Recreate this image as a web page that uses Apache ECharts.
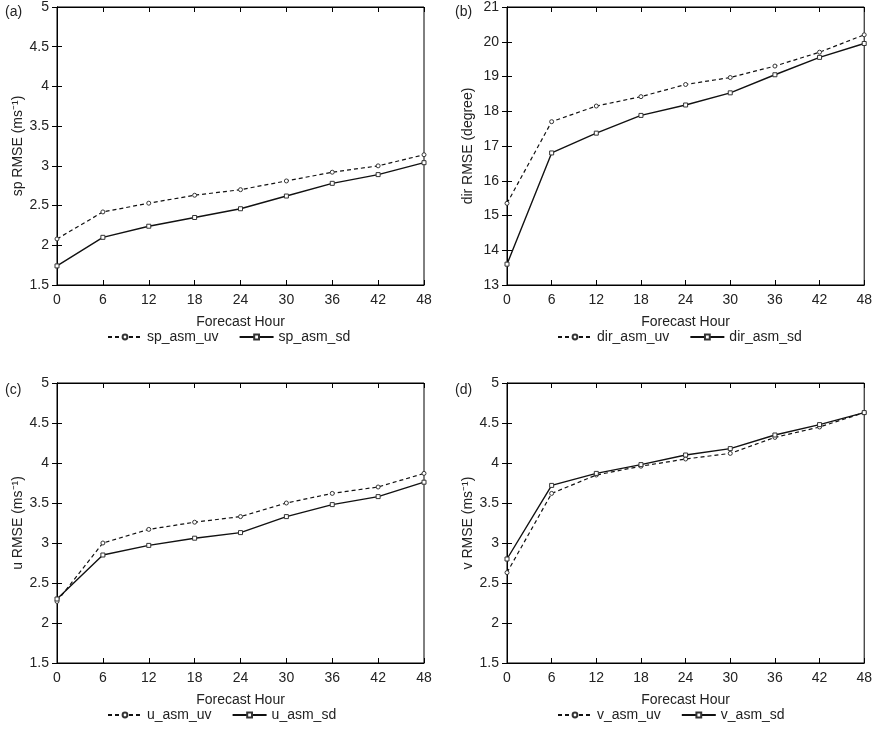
<!DOCTYPE html>
<html><head><meta charset="utf-8">
<script src="https://cdn.jsdelivr.net/npm/echarts@6/dist/echarts.min.js"></script>
<style>html,body{margin:0;padding:0;background:#fff}#c{width:875px;height:730px}</style>
</head><body><div id="c"></div>
<script>
var hours = [0, 6, 12, 18, 24, 30, 36, 42, 48];
var spUv = [2.08, 2.42, 2.53, 2.63, 2.70, 2.81, 2.92, 3.00, 3.14];
var spSd = [1.74, 2.10, 2.24, 2.35, 2.46, 2.62, 2.78, 2.89, 3.04];
var dirUv = [15.35, 17.70, 18.15, 18.42, 18.77, 18.97, 19.30, 19.70, 20.20];
var dirSd = [13.60, 16.80, 17.37, 17.88, 18.18, 18.53, 19.05, 19.55, 19.95];
var uUv = [2.27, 3.00, 3.17, 3.26, 3.33, 3.50, 3.62, 3.70, 3.87];
var uSd = [2.30, 2.85, 2.97, 3.06, 3.13, 3.33, 3.48, 3.58, 3.76];
var vUv = [2.63, 3.62, 3.85, 3.96, 4.05, 4.12, 4.32, 4.45, 4.63];
var vSd = [2.80, 3.72, 3.87, 3.98, 4.10, 4.18, 4.35, 4.48, 4.63];

var panels = [
  {tag:'(a)', yName:'sp RMSE (ms⁻¹)', min:1.5, max:5, step:0.5, uv:spUv, sd:spSd, names:['sp_asm_uv','sp_asm_sd'], left:57, top:5},
  {tag:'(b)', yName:'dir RMSE (degree)', min:13, max:21, step:1, uv:dirUv, sd:dirSd, names:['dir_asm_uv','dir_asm_sd'], left:507, top:5},
  {tag:'(c)', yName:'u RMSE (ms⁻¹)', min:1.5, max:5, step:0.5, uv:uUv, sd:uSd, names:['u_asm_uv','u_asm_sd'], left:57, top:383},
  {tag:'(d)', yName:'v RMSE (ms⁻¹)', min:1.5, max:5, step:0.5, uv:vUv, sd:vSd, names:['v_asm_uv','v_asm_sd'], left:507, top:383}
];

var txt = {color:'#222', fontFamily:'Liberation Sans', fontSize:14};
var option = {animation:false, grid:[], xAxis:[], yAxis:[], series:[], legend:[], title:[]};
panels.forEach(function(p, i){
  option.grid.push({left:p.left, top:p.top, width:367, height:280, show:true, borderColor:'#000', borderWidth:1});
  var xa = {type:'value', gridIndex:i, min:0, max:48, interval:6,
    axisLine:{lineStyle:{color:'#000'}}, axisTick:{inside:true, length:5, lineStyle:{color:'#000'}},
    splitLine:{show:false}, axisLabel:txt};
  option.xAxis.push(Object.assign({}, xa, {position:'bottom', name:'Forecast Hour', nameLocation:'middle', nameGap:30, nameTextStyle:txt}));
  option.xAxis.push(Object.assign({}, xa, {position:'top', axisLabel:{show:false}}));
  var ya = {type:'value', gridIndex:i, min:p.min, max:p.max, interval:p.step,
    axisLine:{lineStyle:{color:'#000'}}, axisTick:{inside:true, length:5, lineStyle:{color:'#000'}},
    splitLine:{show:false}, axisLabel:txt};
  option.yAxis.push(Object.assign({}, ya, {position:'left', name:p.yName, nameLocation:'middle', nameGap:32, nameTextStyle:txt}));
  option.yAxis.push(Object.assign({}, ya, {position:'right', axisLabel:{show:false}}));
  var d1 = hours.map(function(h,k){return [h, p.uv[k]];});
  var d2 = hours.map(function(h,k){return [h, p.sd[k]];});
  option.series.push({name:p.names[0], type:'line', xAxisIndex:2*i, yAxisIndex:2*i, data:d1,
    symbol:'circle', symbolSize:4, itemStyle:{color:'#fff', borderColor:'#333', borderWidth:1},
    lineStyle:{color:'#111', width:1.2, type:[4,3]}});
  option.series.push({name:p.names[1], type:'line', xAxisIndex:2*i, yAxisIndex:2*i, data:d2,
    symbol:'rect', symbolSize:4, itemStyle:{color:'#fff', borderColor:'#333', borderWidth:1},
    lineStyle:{color:'#111', width:1.4}});
  option.legend.push({data:p.names, left:p.left + 50, top:p.top + 325, padding:0, itemWidth:34, itemHeight:6, itemGap:20,
    textStyle:txt});
  option.title.push({text:p.tag, left:(i%2 ? 450 : 0), top:p.top - 5, textStyle:{color:'#222', fontFamily:'Liberation Sans', fontSize:14, fontWeight:'normal'}});
});
echarts.init(document.getElementById('c')).setOption(option);
</script></body></html>
